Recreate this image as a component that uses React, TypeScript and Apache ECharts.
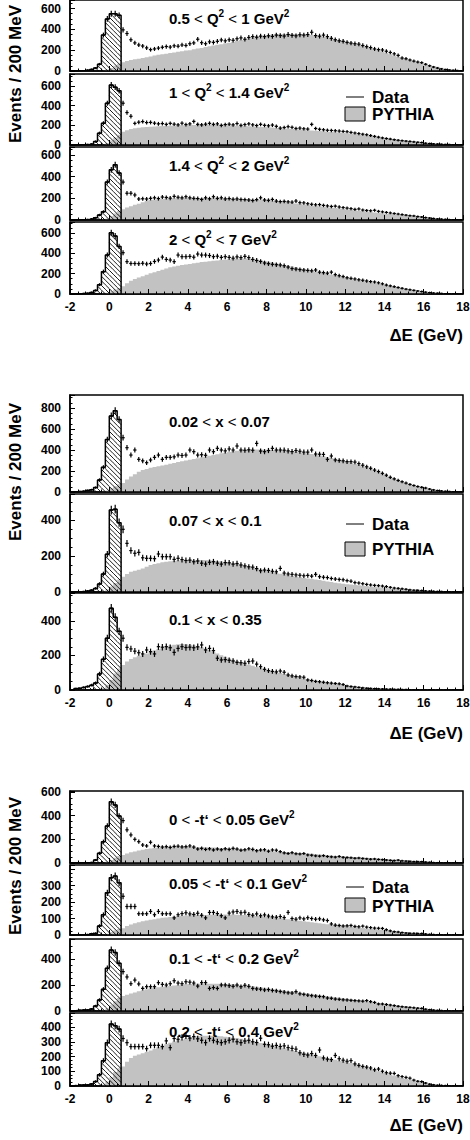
import React, { useEffect, useRef } from 'react';
import * as echarts from 'echarts';

const BIN = 0.2;
const PEAK_START = -2;
const LOW_START = -0.4;
const CONT_START = 0.6;
const X_TICKS_MIN = -2;
const X_TICKS_MAX = 18;

const panelTexts = [
  '0.5 < Q^2 < 1 GeV^2', '1 < Q^2 < 1.4 GeV^2', '1.4 < Q^2 < 2 GeV^2', '2 < Q^2 < 7 GeV^2',
  '0.02 < x < 0.07', '0.07 < x < 0.1', '0.1 < x < 0.35',
  '0 < -t‘ < 0.05 GeV^2', '0.05 < -t‘ < 0.1 GeV^2', '0.1 < -t‘ < 0.2 GeV^2', '0.2 < -t‘ < 0.4 GeV^2',
];
const yTitle = 'Events / 200 MeV';
const xTitle = 'ΔE (GeV)';
const legendData = 'Data';
const legendMc = 'PYTHIA';

// ---------- Q2 bins ----------
const q1Peak = [0, 1, 2, 4, 8, 15, 28, 65, 345, 500, 550, 550, 535];
const q1McLow = [5, 15, 30, 50, 70];
const q1Data = [395, 360, 300, 270, 250, 240, 222,
  205, 212, 220, 228, 235, 230, 242, 238, 250, 245,
  262, 270, 305, 272, 262, 280, 275, 285, 298, 290,
  300, 295, 310, 318, 305, 322, 330, 325, 335, 330,
  338, 332, 345, 340, 336, 350, 342, 338, 348, 345,
  350, 372, 340, 335, 345, 330, 314, 300, 290, 285,
  275, 268, 262, 258, 245, 234, 225, 212, 205, 202,
  190, 178, 165, 150, 125, 118, 106, 95, 86, 80,
  65, 50, 38, 28, 20, 14, 10, 7, 5, 3];
const q1Mc = [85, 95, 105, 112, 118, 125, 132,
  140, 148, 155, 160, 165, 172, 178, 185, 190, 196,
  200, 208, 215, 222, 230, 238, 245, 252, 258, 266,
  272, 280, 290, 298, 305, 312, 320, 328, 334, 340,
  345, 350, 352, 355, 356, 358, 356, 355, 354, 352,
  350, 345, 340, 335, 330, 322, 315, 305, 298, 290,
  282, 272, 262, 252, 242, 230, 220, 210, 198, 188,
  175, 162, 150, 138, 126, 115, 104, 94, 84, 75,
  66, 57, 48, 40, 32, 25, 18, 12, 7, 3];

const q2Peak = [0, 1, 2, 3, 6, 10, 35, 120, 222, 425, 610, 588, 552];
const q2McLow = [5, 20, 45, 75, 105];
const q2Data = [425, 330, 292, 220, 232, 238, 228,
  230, 222, 215, 218, 210, 220, 212, 205, 222, 208,
  215, 240, 210, 205, 212, 220, 210, 215, 200, 208,
  212, 205, 218, 200, 208, 215, 205, 198, 210, 200,
  195, 203, 190, 172, 178, 186, 180, 168, 172, 165,
  162, 210, 168, 160, 155, 150, 148, 145, 142, 138,
  135, 128, 122, 116, 110, 104, 96, 88, 80, 72,
  66, 60, 54, 48, 44, 40, 36, 32, 28, 25,
  18, 15, 12, 10, 8, 6, 5, 4, 3, 2];
const q2Mc = [135, 150, 162, 170, 175, 180, 183,
  186, 188, 190, 193, 195, 197, 199, 200, 201, 202,
  203, 204, 204, 205, 205, 205, 204, 204, 203, 202,
  200, 198, 196, 194, 192, 190, 188, 186, 184, 182,
  180, 177, 174, 171, 169, 166, 163, 160, 157, 154,
  151, 148, 145, 142, 139, 136, 133, 130, 127, 124,
  120, 116, 112, 107, 102, 97, 92, 87, 82, 77,
  72, 66, 60, 54, 48, 42, 37, 32, 28, 24,
  20, 16, 12, 9, 7, 5, 4, 3, 2, 1];

const q3Peak = [0, 1, 2, 3, 5, 10, 20, 46, 77, 350, 463, 510, 435];
const q3McLow = [5, 15, 35, 60, 85];
const q3Data = [350, 247, 247, 231, 194, 196, 194,
  200, 205, 198, 212, 208, 202, 218, 210, 205, 215,
  205, 200, 198, 190, 205, 196, 215, 200, 205, 195,
  198, 192, 195, 190, 188, 185, 180, 188, 205, 185,
  182, 190, 175, 170, 172, 168, 165, 175, 160, 158,
  150, 145, 140, 142, 135, 130, 125, 128, 120, 115,
  110, 105, 98, 102, 92, 88, 85, 90, 80, 75,
  70, 65, 60, 55, 50, 45, 40, 38, 32, 28,
  22, 18, 14, 10, 8, 6, 4, 3, 2, 1];
const q3Mc = [100, 115, 128, 140, 150, 165, 178,
  185, 188, 192, 195, 198, 200, 201, 202, 202, 203,
  203, 203, 202, 202, 201, 200, 200, 199, 198, 197,
  196, 195, 194, 193, 192, 190, 189, 188, 187, 186,
  184, 180, 176, 172, 168, 163, 158, 153, 148, 143,
  138, 134, 130, 126, 122, 118, 114, 110, 106, 102,
  98, 94, 90, 86, 82, 78, 74, 70, 66, 62,
  58, 55, 52, 49, 46, 43, 40, 37, 34, 31,
  27, 23, 19, 15, 11, 8, 5, 3, 2, 1];

const q4Peak = [0, 0, 2, 5, 8, 15, 35, 92, 220, 384, 603, 570, 468];
const q4McLow = [5, 12, 25, 45, 60];
const q4Data = [406, 318, 300, 300, 298, 302, 295,
  300, 320, 334, 363, 340, 334, 318, 383, 367, 367,
  370, 362, 393, 383, 383, 378, 367, 372, 360, 367,
  360, 352, 365, 358, 370, 358, 340, 330, 320, 305,
  298, 292, 288, 285, 278, 265, 250, 245, 240, 235,
  232, 228, 236, 215, 210, 205, 215, 190, 180, 172,
  160, 154, 148, 140, 135, 128, 122, 118, 110, 100,
  88, 80, 72, 64, 56, 48, 42, 36, 30, 24,
  18, 14, 10, 8, 6, 4, 3, 2, 2, 1];
const q4Mc = [75, 105, 130, 148, 162, 175, 190,
  205, 215, 225, 238, 250, 262, 270, 278, 284, 290,
  296, 302, 308, 314, 318, 322, 326, 330, 334, 338,
  342, 345, 347, 348, 348, 346, 343, 338, 332, 325,
  318, 310, 302, 294, 286, 278, 270, 262, 254, 246,
  238, 230, 222, 214, 206, 198, 190, 182, 174, 166,
  158, 150, 143, 136, 129, 122, 115, 108, 101, 94,
  87, 80, 72, 64, 56, 48, 41, 34, 28, 23,
  18, 14, 10, 7, 5, 4, 3, 2, 1, 1];

// ---------- x bins ----------
const x1Peak = [0, 2, 5, 8, 15, 22, 42, 115, 235, 500, 725, 775, 690];
const x1McLow = [5, 15, 35, 55, 75];
const x1Data = [517, 422, 352, 400, 311, 297, 279,
  305, 330, 352, 311, 330, 330, 335, 352, 348, 352,
  400, 384, 352, 355, 350, 400, 384, 416, 400, 392,
  410, 400, 438, 400, 398, 402, 398, 463, 390, 384,
  395, 416, 400, 400, 398, 392, 385, 395, 388, 380,
  380, 400, 362, 360, 358, 311, 343, 305, 300, 297,
  289, 289, 285, 270, 255, 240, 226, 209, 195, 178,
  160, 140, 125, 110, 98, 85, 72, 62, 52, 45,
  38, 28, 20, 14, 10, 7, 5, 3, 2, 1];
const x1Mc = [85, 120, 148, 170, 192, 210, 220,
  230, 238, 245, 252, 260, 268, 276, 285, 292, 300,
  308, 315, 322, 330, 338, 345, 352, 360, 368, 375,
  382, 388, 393, 397, 400, 402, 403, 404, 404, 403,
  402, 400, 398, 396, 393, 390, 387, 383, 378, 373,
  368, 362, 355, 348, 340, 332, 324, 316, 308, 300,
  290, 280, 270, 258, 246, 234, 222, 208, 192, 176,
  158, 142, 128, 114, 100, 88, 76, 66, 56, 48,
  40, 32, 25, 19, 14, 10, 7, 4, 2, 1];

const x2Peak = [0, 1, 2, 3, 6, 10, 20, 45, 100, 210, 455, 460, 385];
const x2McLow = [5, 15, 30, 50, 70];
const x2Data = [348, 270, 230, 215, 220, 190, 187,
  187, 185, 211, 196, 196, 196, 181, 187, 180, 175,
  177, 168, 172, 160, 155, 165, 168, 160, 155, 163,
  162, 155, 158, 150, 145, 140, 138, 130, 118, 122,
  120, 115, 112, 131, 105, 100, 98, 95, 93, 90,
  92, 88, 98, 85, 82, 80, 75, 72, 70, 68,
  63, 60, 52, 50, 46, 42, 39, 37, 35, 33,
  30, 26, 22, 20, 18, 15, 12, 10, 9, 8,
  6, 5, 4, 3, 3, 2, 2, 1, 1, 1];
const x2Mc = [85, 100, 112, 118, 124, 131, 140,
  150, 155, 160, 165, 168, 171, 174, 175, 176, 177,
  177, 178, 178, 178, 177, 176, 174, 172, 170, 167,
  164, 160, 156, 151, 146, 141, 136, 131, 126, 121,
  116, 111, 106, 102, 98, 94, 90, 86, 82, 78,
  75, 72, 69, 66, 62, 58, 55, 52, 49, 46,
  43, 41, 39, 37, 35, 33, 31, 29, 27, 25,
  22, 20, 18, 17, 16, 15, 13, 11, 9, 7,
  5, 4, 3, 2, 2, 1, 1, 1, 0, 0];

const x3Peak = [0, 8, 10, 15, 20, 28, 40, 93, 178, 300, 474, 421, 340];
const x3McLow = [10, 30, 60, 95, 125];
const x3Data = [300, 247, 238, 225, 216, 209, 232,
  222, 209, 251, 248, 251, 245, 218, 241, 251, 246,
  248, 245, 250, 261, 232, 241, 228, 184, 174, 176,
  172, 168, 160, 158, 155, 165, 168, 150, 135, 120,
  112, 108, 105, 110, 103, 87, 82, 78, 76, 74,
  58, 55, 50, 48, 45, 42, 40, 38, 36, 32,
  23, 20, 18, 15, 12, 10, 9, 8, 7, 6,
  5, 5, 4, 4, 3, 3, 2, 2, 2, 1,
  1, 1, 1, 1, 0, 0, 0, 0, 0, 0];
const x3Mc = [145, 165, 180, 190, 198, 205, 212,
  222, 230, 238, 245, 252, 258, 262, 265, 266, 265,
  262, 258, 253, 247, 240, 232, 222, 212, 202, 192,
  183, 175, 168, 161, 154, 147, 140, 133, 126, 120,
  115, 109, 103, 98, 93, 88, 83, 78, 73, 68,
  62, 58, 54, 50, 47, 44, 41, 38, 35, 32,
  28, 25, 22, 19, 17, 15, 13, 12, 11, 10,
  8, 7, 6, 5, 4, 3, 3, 2, 2, 2,
  1, 1, 1, 1, 1, 0, 0, 0, 0, 0];

// ---------- -t' bins ----------
const t1Peak = [0, 0, 0, 1, 3, 5, 25, 82, 180, 313, 518, 490, 397];
const t1McLow = [3, 10, 25, 45, 60];
const t1Data = [358, 280, 237, 200, 180, 152, 144,
  175, 144, 140, 135, 138, 132, 140, 142, 136, 138,
  144, 135, 118, 124, 115, 120, 110, 118, 112, 120,
  115, 124, 118, 108, 112, 120, 115, 104, 110, 112,
  100, 110, 108, 96, 85, 80, 87, 78, 76, 80,
  68, 66, 60, 58, 62, 55, 52, 50, 55, 48,
  46, 44, 40, 42, 38, 35, 32, 34, 30, 28,
  25, 22, 20, 24, 18, 16, 14, 12, 11, 12,
  8, 6, 4, 3, 2, 2, 2, 1, 1, 1];
const t1Mc = [68, 80, 90, 98, 105, 112, 118,
  123, 127, 130, 133, 135, 137, 138, 138, 138, 137,
  136, 135, 134, 133, 132, 131, 130, 129, 127, 126,
  125, 123, 121, 119, 117, 115, 113, 111, 109, 106,
  103, 100, 97, 95, 93, 91, 89, 87, 85, 83,
  81, 78, 75, 72, 69, 66, 63, 60, 58, 56,
  54, 52, 50, 48, 46, 44, 42, 40, 38, 36,
  34, 32, 30, 28, 26, 24, 22, 20, 18, 16,
  13, 10, 8, 6, 4, 3, 2, 1, 1, 0];

const t2Peak = [0, 0, 0, 1, 3, 8, 10, 55, 123, 256, 348, 358, 317];
const t2McLow = [2, 8, 18, 28, 36];
const t2Data = [235, 173, 173, 173, 129, 129, 129,
  143, 123, 143, 129, 129, 129, 104, 123, 130, 135,
  128, 125, 132, 120, 104, 137, 137, 130, 117, 104,
  133, 140, 143, 135, 138, 125, 120, 128, 117, 122,
  115, 110, 108, 112, 106, 137, 100, 96, 104, 98,
  105, 100, 96, 98, 92, 88, 67, 60, 58, 55,
  56, 58, 52, 50, 54, 48, 45, 42, 41, 40,
  32, 25, 20, 18, 15, 12, 10, 10, 9, 9,
  6, 4, 3, 2, 2, 1, 1, 1, 1, 0];
const t2Mc = [41, 55, 64, 72, 78, 83, 88,
  92, 96, 100, 104, 107, 110, 113, 115, 117, 119,
  120, 121, 122, 122, 122, 123, 123, 124, 124, 125,
  125, 124, 123, 122, 121, 120, 118, 116, 114, 112,
  110, 107, 104, 101, 98, 95, 92, 89, 86, 83,
  80, 77, 74, 71, 68, 65, 62, 60, 58, 56,
  54, 51, 48, 45, 42, 40, 38, 36, 34, 32,
  30, 27, 24, 21, 18, 16, 14, 12, 11, 10,
  8, 6, 5, 4, 3, 2, 1, 1, 0, 0];

const t3Peak = [0, 3, 6, 8, 8, 15, 38, 85, 167, 328, 470, 450, 367];
const t3McLow = [5, 20, 45, 75, 100];
const t3Data = [303, 262, 210, 238, 208, 174, 187,
  187, 187, 218, 205, 200, 210, 233, 215, 210, 225,
  222, 215, 192, 218, 218, 174, 180, 174, 200, 200,
  195, 190, 200, 187, 198, 190, 174, 170, 168, 162,
  165, 158, 155, 150, 145, 140, 138, 149, 132, 128,
  122, 118, 115, 112, 110, 100, 98, 92, 90, 86,
  85, 82, 80, 78, 76, 80, 72, 66, 54, 54,
  50, 46, 42, 36, 33, 30, 28, 25, 22, 20,
  14, 10, 7, 5, 4, 3, 2, 1, 1, 1];
const t3Mc = [115, 125, 135, 143, 152, 160, 168,
  175, 179, 183, 187, 190, 193, 196, 199, 202, 205,
  207, 208, 209, 210, 210, 210, 210, 209, 209, 208,
  207, 205, 202, 199, 196, 193, 190, 186, 182, 178,
  174, 170, 166, 162, 158, 154, 150, 146, 142, 138,
  134, 130, 126, 122, 118, 114, 110, 106, 102, 98,
  94, 90, 86, 82, 78, 74, 70, 66, 62, 58,
  54, 50, 46, 42, 38, 34, 30, 26, 23, 20,
  17, 14, 11, 8, 6, 4, 3, 2, 1, 0];

const t4Peak = [0, 3, 7, 7, 8, 14, 30, 76, 172, 294, 420, 409, 386];
const t4McLow = [10, 30, 60, 95, 120];
const t4Data = [322, 294, 267, 267, 267, 267, 253,
  276, 276, 276, 267, 306, 260, 322, 317, 330, 340,
  325, 335, 320, 310, 294, 322, 310, 300, 294, 300,
  310, 317, 300, 294, 305, 310, 300, 295, 324, 283,
  280, 270, 275, 268, 272, 260, 255, 250, 225, 215,
  210, 220, 207, 244, 190, 182, 179, 207, 185, 175,
  168, 172, 150, 140, 133, 128, 122, 110, 115, 100,
  90, 87, 85, 70, 64, 58, 53, 40, 32, 30,
  20, 12, 8, 5, 4, 3, 2, 1, 1, 1];
const t4Mc = [133, 165, 190, 205, 214, 222, 230,
  240, 252, 264, 275, 285, 294, 302, 310, 316, 322,
  328, 333, 337, 340, 341, 341, 340, 339, 337, 334,
  331, 328, 324, 320, 315, 310, 304, 298, 292, 286,
  280, 274, 268, 262, 256, 250, 244, 238, 232, 226,
  220, 214, 208, 202, 196, 190, 184, 178, 172, 168,
  164, 156, 148, 140, 132, 124, 116, 108, 100, 92,
  85, 78, 70, 62, 55, 50, 44, 38, 33, 29,
  24, 18, 13, 9, 6, 4, 3, 2, 1, 0];

const peaks = [q1Peak, q2Peak, q3Peak, q4Peak, x1Peak, x2Peak, x3Peak, t1Peak, t2Peak, t3Peak, t4Peak];
const mcLows = [q1McLow, q2McLow, q3McLow, q4McLow, x1McLow, x2McLow, x3McLow, t1McLow, t2McLow, t3McLow, t4McLow];
const datas = [q1Data, q2Data, q3Data, q4Data, x1Data, x2Data, x3Data, t1Data, t2Data, t3Data, t4Data];
const mcs = [q1Mc, q2Mc, q3Mc, q4Mc, x1Mc, x2Mc, x3Mc, t1Mc, t2Mc, t3Mc, t4Mc];

// axis ranges (y max, tick step, highest labelled tick)
const yMax = [682, 722, 674, 708, 924, 544, 562, 608, 425, 554, 495];
const yStep = [200, 200, 200, 200, 200, 200, 200, 200, 100, 200, 100];
const yLabelTop = [600, 600, 600, 600, 800, 400, 400, 600, 300, 400, 400];

// ---------- layout (pixels) ----------
const PLOT_LEFT = 70;
const PLOT_WIDTH = 393;
const panelBox = [[0, 71], [74, 145], [147, 220], [222, 294], [395, 492], [494, 592], [593, 690],
  [791, 863], [865, 935], [939, 1011], [1013, 1086]];
const titleY = [18, 92, 165, 239, 421, 520, 619, 819, 883, 958, 1031];
const bottomPanels = [3, 6, 10];
const groupCenters = [74, 472, 866];
const xTitleY = [335, 733, 1125];
const legendYs = [[97, 107, 114], [524, 542, 549], [887, 898, 906]];

const FONT = "'Liberation Sans', Arial, Helvetica, sans-serif";
const GREY = '#c2c2c2';
const HATCH_FROM = 5;

function binRows(values: number[], start: number) {
  return values.map((v, i) => [start + i * BIN, start + (i + 1) * BIN, v]);
}

function stepPoints(values: number[], start: number) {
  const pts: number[][] = [[start, 0]];
  values.forEach((v, k) => {
    pts.push([start + k * BIN, v]);
    pts.push([start + (k + 1) * BIN, v]);
  });
  pts.push([start + values.length * BIN, 0]);
  return pts;
}

// "a < b^2" -> rich text with thin "<" and raised superscripts
function richLabel(s: string) {
  return s.split('<').map((p) => {
    const parts = p.split('^');
    let out = `{b|${parts[0]}}`;
    for (let j = 1; j < parts.length; j++) {
      const sup = parts[j].charAt(0);
      const rest = parts[j].slice(1);
      out += `{s|${sup}}`;
      if (rest) out += `{b|${rest}}`;
    }
    return out;
  }).join('{l|<}');
}

export default function App() {
  const ref = useRef<HTMLDivElement>(null);
  useEffect(() => {
    document.body.style.margin = '0';
    if (!ref.current) return;
    const chart = echarts.init(ref.current, undefined, { renderer: 'svg' });

    const grids: any[] = [];
    const xAxes: any[] = [];
    const yAxes: any[] = [];
    const series: any[] = [];

    panelBox.forEach(([top, bottom], i) => {
      const isBottom = bottomPanels.includes(i);
      grids.push({
        left: PLOT_LEFT, width: PLOT_WIDTH, top, height: bottom - top,
        show: true, borderColor: '#000', borderWidth: 1.5, backgroundColor: 'transparent',
        containLabel: false, outerBoundsMode: 'none',
      });
      xAxes.push({
        gridIndex: i, type: 'value', min: X_TICKS_MIN, max: X_TICKS_MAX, interval: 2, z: 10,
        axisLine: { show: true, onZero: false, lineStyle: { color: '#000', width: 1.5 } },
        axisTick: { show: true, inside: true, length: 5, lineStyle: { color: '#000', width: 1 } },
        minorTick: { show: true, splitNumber: 5, length: 2.5, lineStyle: { color: '#000', width: 1 } },
        splitLine: { show: false }, minorSplitLine: { show: false },
        axisLabel: { show: isBottom, color: '#000', fontSize: 12, fontWeight: 'bold', fontFamily: FONT, margin: 7 },
      });
      const step = yStep[i];
      const lt = yLabelTop[i];
      yAxes.push({
        gridIndex: i, type: 'value', min: 0, max: yMax[i], interval: step, z: 10,
        axisLine: { show: true, onZero: false, lineStyle: { color: '#000', width: 1.5 } },
        axisTick: { show: true, inside: true, length: 5, lineStyle: { color: '#000', width: 1 } },
        minorTick: { show: true, splitNumber: 4, length: 2.5, lineStyle: { color: '#000', width: 1 } },
        splitLine: { show: false }, minorSplitLine: { show: false },
        axisLabel: {
          color: '#000', fontSize: 12, fontWeight: 'bold', fontFamily: FONT, margin: 9,
          formatter: (v: number) => (v % step === 0 && v <= lt ? String(v) : ''),
        },
      });

      // PYTHIA: one filled step polygon built from the bin values through the axis scales
      const mcAll = mcLows[i].concat(mcs[i]);
      const mcPts = stepPoints(mcAll, LOW_START);
      series.push({
        type: 'custom', xAxisIndex: i, yAxisIndex: i, clip: true, z: 2, silent: true,
        data: [[LOW_START, 0]],
        renderItem: (params: any, api: any) => {
          const points = mcPts.map((p) => api.coord(p));
          return {
            type: 'polygon',
            shape: { points },
            style: { fill: GREY, stroke: 'none' },
          };
        },
      });

      const hatchRows = binRows(peaks[i], PEAK_START).slice(HATCH_FROM);
      series.push({
        type: 'custom', xAxisIndex: i, yAxisIndex: i, clip: true, z: 3, silent: true,
        data: hatchRows,
        renderItem: (params: any, api: any) => {
          const a = api.coord([api.value(0), api.value(2)]);
          const b = api.coord([api.value(1), 0]);
          const left = a[0], right = b[0], topY = a[1], botY = b[1];
          const s = 4.6;
          const children: any[] = [];
          const kmin = Math.ceil((topY - right) / s);
          const kmax = Math.floor((botY - left) / s);
          for (let k = kmin; k <= kmax; k++) {
            const c = k * s;
            const xs = Math.max(left, topY - c);
            const xe = Math.min(right, botY - c);
            if (xe > xs + 0.2) {
              children.push({
                type: 'line',
                shape: { x1: xs, y1: xs + c, x2: xe, y2: xe + c },
                style: { stroke: '#000', lineWidth: 0.9 },
              });
            }
          }
          return { type: 'group', children };
        },
      });

      series.push({
        type: 'line', xAxisIndex: i, yAxisIndex: i, data: stepPoints(peaks[i], PEAK_START),
        showSymbol: false, symbol: 'none', lineStyle: { color: '#000', width: 1.5 }, z: 4, silent: true,
      });

      const crossRows = binRows(peaks[i], PEAK_START).concat(binRows(datas[i], CONT_START));
      series.push({
        type: 'custom', xAxisIndex: i, yAxisIndex: i, clip: true, z: 5, silent: true,
        data: crossRows,
        renderItem: (params: any, api: any) => {
          const x0 = api.value(0), x1 = api.value(1), v = api.value(2);
          const e = Math.sqrt(Math.max(v, 0));
          const xc = (x0 + x1) / 2;
          const pl = api.coord([x0, v]);
          const pr = api.coord([x1, v]);
          const pt = api.coord([xc, v + e]);
          const pb = api.coord([xc, Math.max(v - e, 0)]);
          return {
            type: 'group',
            children: [
              { type: 'line', shape: { x1: pl[0] + 0.3, y1: pl[1], x2: pr[0] - 0.3, y2: pr[1] }, style: { stroke: '#000', lineWidth: 1.2 } },
              { type: 'line', shape: { x1: pt[0], y1: pt[1] - 0.5, x2: pb[0], y2: pb[1] + 0.5 }, style: { stroke: '#000', lineWidth: 1.2 } },
            ],
          };
        },
      });
    });

    const elements: any[] = [];
    panelTexts.forEach((t, i) => {
      elements.push({
        type: 'text', x: 169, y: titleY[i], z: 20,
        style: {
          text: richLabel(t), align: 'left', verticalAlign: 'middle',
          rich: {
            b: { fontFamily: FONT, fontWeight: 'bold', fontSize: 15, lineHeight: 20, fill: '#000' },
            l: { fontFamily: FONT, fontWeight: 'normal', fontSize: 15, lineHeight: 20, fill: '#000' },
            s: { fontFamily: FONT, fontWeight: 'bold', fontSize: 10, lineHeight: 11, fill: '#000', verticalAlign: 'top' },
          },
        },
      });
    });
    groupCenters.forEach((cy) => {
      elements.push({
        type: 'text', x: 15, y: cy, rotation: Math.PI / 2, z: 20,
        style: { text: yTitle, fontFamily: FONT, fontWeight: 'bold', fontSize: 17, fill: '#000', align: 'center', verticalAlign: 'middle' },
      });
    });
    xTitleY.forEach((y) => {
      elements.push({
        type: 'text', x: 463, y, z: 20,
        style: { text: xTitle, fontFamily: FONT, fontWeight: 'bold', fontSize: 17, fill: '#000', align: 'right', verticalAlign: 'middle' },
      });
    });
    legendYs.forEach(([ly, by, py]) => {
      elements.push({ type: 'line', z: 20, shape: { x1: 346, y1: ly, x2: 364, y2: ly }, style: { stroke: '#000', lineWidth: 1 } });
      elements.push({
        type: 'text', x: 372, y: ly, z: 20,
        style: { text: legendData, fontFamily: FONT, fontWeight: 'bold', fontSize: 17, fill: '#000', align: 'left', verticalAlign: 'middle' },
      });
      elements.push({ type: 'rect', z: 20, shape: { x: 345, y: by, width: 20, height: 14 }, style: { fill: GREY, stroke: '#000', lineWidth: 1 } });
      elements.push({
        type: 'text', x: 372, y: py, z: 20,
        style: { text: legendMc, fontFamily: FONT, fontWeight: 'bold', fontSize: 17, fill: '#000', align: 'left', verticalAlign: 'middle' },
      });
    });

    chart.setOption({
      animation: false,
      backgroundColor: '#fff',
      textStyle: { fontFamily: FONT },
      grid: grids,
      xAxis: xAxes,
      yAxis: yAxes,
      series,
      graphic: { elements },
    });
    return () => chart.dispose();
  }, []);
  return <div ref={ref} style={{ width: 470, height: 1140 }} />;
}
